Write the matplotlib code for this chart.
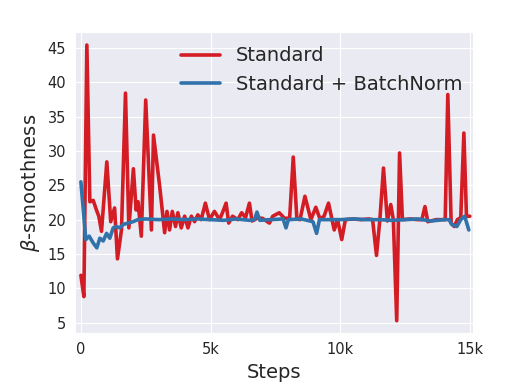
import matplotlib
matplotlib.use("Agg")
import matplotlib.pyplot as plt
import seaborn as sns
from matplotlib.ticker import FuncFormatter

sns.set_style("darkgrid")
plt.rcParams['font.family'] = ['DejaVu Sans']

std_steps = [0, 115, 230, 346, 475, 600, 690, 795, 1000, 1150, 1300, 1410, 1565, 1720, 1850,
             2025, 2130, 2205, 2330, 2500, 2720, 2800, 3040, 3230, 3320, 3420, 3525, 3650, 3740,
             3870, 4000, 4130, 4260, 4385, 4510, 4640, 4800, 4960, 5150, 5350, 5480, 5600, 5700,
             5850, 6050, 6200, 6350, 6500, 6600, 6800, 7000, 7270, 7400, 7650, 7850, 8050, 8190,
             8330, 8450, 8640, 8870, 9060, 9220, 9380, 9550, 9770, 9900, 10060, 10200, 10500,
             10800, 11100, 11250, 11400, 11530, 11670, 11820, 11950, 12050, 12180, 12290, 12400,
             12700, 13000, 13150, 13270, 13380, 13700, 14050, 14150, 14280, 14400, 14520, 14650,
             14770, 14870, 15000]
std_vals = [11.9, 8.8, 45.4, 22.6, 22.8, 21.4, 20.5, 18.3, 28.4, 19.7, 21.7, 14.3, 18.5, 38.4, 18.8,
            27.4, 21.4, 22.6, 17.6, 37.4, 18.5, 32.3, 24.8, 18.1, 21.2, 18.5, 21.2, 19.0, 21.0,
            18.8, 20.5, 18.8, 20.5, 19.7, 20.7, 20.0, 22.4, 20.0, 21.2, 20.0, 21.2, 22.4, 19.5,
            20.5, 20.0, 21.0, 20.3, 22.4, 19.8, 20.2, 20.2, 19.5, 20.5, 21.0, 20.2, 20.2, 29.1,
            20.1, 20.0, 23.4, 20.0, 21.8, 20.1, 20.5, 22.4, 18.5, 20.0, 17.1, 20.0, 20.1,
            20.0, 20.1, 20.0, 14.8, 20.0, 27.5, 19.8, 22.2, 20.0, 5.3, 29.7, 20.0,
            20.1, 20.0, 20.0, 21.9, 19.7, 20.0, 20.0, 38.2, 19.5, 19.0, 20.0, 20.3,
            32.6, 20.5, 20.5]

bn_steps = [0, 190, 320, 475, 615, 730, 860, 990, 1115, 1245, 1370, 1500, 1630, 1820, 2010, 2200,
            2500, 3000, 3500, 4000, 4500, 5000, 5500, 6000, 6500, 6700, 6790, 6900, 7300, 7800,
            7910, 8000, 8500, 8950, 9090, 9200, 9600, 10000, 10500, 11000, 11500, 12000, 12500,
            13000, 13500, 14000, 14200, 14300, 14500, 14650, 14800, 14960]
bn_vals = [25.5, 17.1, 17.6, 16.6, 15.9, 17.3, 16.9, 18.0, 17.3, 18.8, 19.0, 18.8, 19.3, 19.5, 19.7, 20.0,
           20.1, 20.0, 20.1, 20.0, 20.1, 20.0, 19.9, 20.1, 19.9, 20.0, 21.1, 19.9, 20.0, 20.1,
           18.8, 20.0, 20.1, 19.7, 18.0, 20.0, 20.0, 20.0, 20.1, 20.0, 20.0, 19.9, 20.0,
           20.1, 19.8, 20.0, 20.0, 19.3, 19.0, 20.0, 20.5, 18.5]

fig = plt.figure(figsize=(5.08, 3.9), dpi=100)
ax = fig.add_axes([0.148, 0.146, 0.783, 0.772])
ax.plot(std_steps, std_vals, color='#d41c24', lw=2.6, label='Standard')
ax.plot(bn_steps, bn_vals, color='#3072aa', lw=2.6, label='Standard + BatchNorm')
ax.set_xlim(-220, 15120)
ax.set_ylim(3.5, 47.3)
ax.set_xticks([0, 5000, 10000, 15000])
ax.xaxis.set_major_formatter(FuncFormatter(lambda v, p: '0' if v == 0 else f'{int(v/1000)}k'))
ax.set_yticks(range(5, 50, 5))
ax.tick_params(labelsize=10.5, colors='#262626', pad=3)
ax.set_xlabel('Steps', fontsize=14, color='#262626')
ax.set_ylabel(r'$\beta$-smoothness', fontsize=14, color='#262626')
ax.legend(loc='upper center', bbox_to_anchor=(0.62, 1.01), fontsize=14, frameon=False,
          handlelength=2.0)
fig.savefig('out.png', dpi=100)
